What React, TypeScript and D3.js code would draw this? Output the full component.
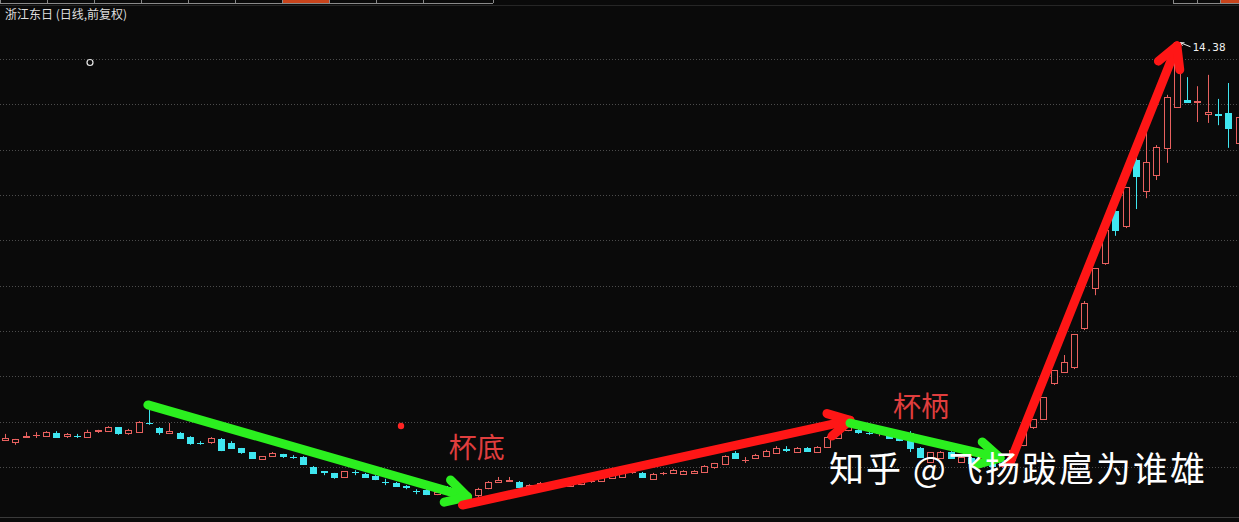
import * as d3 from "d3";

const WIDTH = 1239;
const HEIGHT = 522;
const BG = "#0a0a0a";
const RED = "#e8615f";
const CYAN = "#3fe6f0";
const ARROW_GREEN = "#2bef1f";
const ARROW_RED = "#ff1616";
const LABEL_RED = "#e03e3e";

// price levels of the dotted grid
const gridLevels = [5, 6, 7, 8, 9, 10, 11, 12, 13, 14];

// daily candles
const opens = [
  5.60, 5.55, 5.67, 5.70, 5.68, 5.75, 5.68, 5.69, 5.66, 5.79,
  5.79, 5.88, 5.75, 5.77, 5.98, 5.86, 5.75, 5.75, 5.66, 5.54,
  5.55, 5.62, 5.53, 5.42, 5.33, 5.18, 5.24, 5.29, 5.23, 5.22,
  5.00, 4.91, 4.87, 4.78, 4.90, 4.85, 4.80, 4.68, 4.65, 4.57,
  4.48, 4.49, 4.40, 4.56, 4.45, 4.27, 4.38, 4.54, 4.67, 4.69,
  4.67, 4.49, 4.56, 4.60, 4.58, 4.58, 4.62, 4.69, 4.69, 4.76,
  4.78, 4.89, 4.87, 4.74, 4.86, 4.87, 4.85, 4.87, 4.89, 5.00,
  5.07, 5.31, 5.15, 5.20, 5.24, 5.31, 5.39, 5.33, 5.42, 5.33,
  5.44, 5.64, 5.82, 5.82, 5.76, 5.74, 5.73, 5.66, 5.75, 5.42,
  5.11, 5.20, 5.33, 5.11, 5.20, 5.15, 5.11, 5.02, 5.15, 5.49,
  5.88, 6.06, 6.85, 7.10, 7.21, 8.07, 8.95, 9.50, 10.65, 10.32,
  11.77, 11.09, 11.44, 12.04, 12.94, 13.10, 13.06, 12.79, 12.78, 12.81,
  12.15,
];
const highs = [
  5.73, 5.62, 5.77, 5.77, 5.79, 5.79, 5.75, 5.73, 5.82, 5.82,
  5.90, 5.88, 5.84, 6.01, 6.41, 5.88, 5.97, 5.77, 5.68, 5.57,
  5.66, 5.64, 5.57, 5.42, 5.33, 5.24, 5.33, 5.29, 5.26, 5.24,
  5.02, 4.91, 4.87, 4.91, 4.93, 4.87, 4.82, 4.74, 4.67, 4.60,
  4.51, 4.51, 4.47, 4.58, 4.47, 4.40, 4.54, 4.69, 4.78, 4.78,
  4.69, 4.62, 4.67, 4.67, 4.69, 4.67, 4.74, 4.74, 4.80, 4.85,
  4.89, 4.93, 4.89, 4.87, 4.89, 4.96, 4.93, 4.93, 5.04, 5.09,
  5.26, 5.35, 5.22, 5.29, 5.38, 5.46, 5.46, 5.44, 5.44, 5.46,
  5.68, 5.84, 6.13, 5.84, 5.79, 5.82, 5.75, 5.68, 5.79, 5.44,
  5.33, 5.35, 5.35, 5.24, 5.22, 5.18, 5.13, 5.18, 5.40, 5.79,
  6.06, 6.54, 7.14, 7.47, 7.93, 8.66, 9.39, 10.23, 10.74, 11.18,
  11.93, 12.50, 12.10, 13.21, 14.38, 13.60, 13.40, 13.65, 13.12, 13.47,
  12.85,
];
const lows = [
  5.60, 5.49, 5.67, 5.64, 5.68, 5.66, 5.64, 5.64, 5.66, 5.75,
  5.79, 5.71, 5.71, 5.77, 5.93, 5.71, 5.75, 5.64, 5.49, 5.49,
  5.51, 5.35, 5.42, 5.29, 5.20, 5.18, 5.24, 5.20, 5.18, 5.07,
  4.87, 4.82, 4.74, 4.78, 4.82, 4.76, 4.71, 4.60, 4.56, 4.51,
  4.40, 4.38, 4.38, 4.45, 4.23, 4.18, 4.34, 4.51, 4.67, 4.69,
  4.51, 4.47, 4.56, 4.54, 4.56, 4.56, 4.60, 4.65, 4.69, 4.76,
  4.78, 4.85, 4.76, 4.74, 4.82, 4.87, 4.85, 4.87, 4.89, 4.96,
  5.07, 5.20, 5.09, 5.20, 5.24, 5.31, 5.33, 5.33, 5.35, 5.33,
  5.42, 5.62, 5.79, 5.73, 5.71, 5.68, 5.62, 5.57, 5.33, 5.20,
  5.09, 5.18, 5.18, 5.09, 5.07, 5.02, 4.98, 4.98, 5.13, 5.46,
  5.84, 6.04, 6.81, 7.08, 7.16, 8.02, 8.79, 9.46, 10.10, 10.27,
  10.69, 10.93, 11.33, 11.71, 12.92, 13.05, 12.61, 12.59, 12.54, 12.04,
  12.10,
];
const closes = [
  5.64, 5.62, 5.68, 5.71, 5.77, 5.66, 5.73, 5.68, 5.77, 5.82,
  5.88, 5.75, 5.82, 5.99, 5.96, 5.77, 5.79, 5.64, 5.53, 5.53,
  5.64, 5.38, 5.42, 5.33, 5.20, 5.24, 5.31, 5.24, 5.22, 5.07,
  4.87, 4.89, 4.78, 4.91, 4.89, 4.78, 4.74, 4.67, 4.58, 4.56,
  4.47, 4.40, 4.45, 4.45, 4.32, 4.38, 4.51, 4.67, 4.71, 4.71,
  4.56, 4.60, 4.65, 4.61, 4.67, 4.65, 4.71, 4.69, 4.78, 4.82,
  4.87, 4.89, 4.78, 4.85, 4.87, 4.93, 4.91, 4.91, 5.02, 5.09,
  5.24, 5.20, 5.16, 5.26, 5.35, 5.42, 5.38, 5.42, 5.35, 5.44,
  5.66, 5.82, 6.04, 5.77, 5.75, 5.75, 5.64, 5.60, 5.42, 5.22,
  5.33, 5.33, 5.20, 5.22, 5.09, 5.04, 5.02, 5.15, 5.38, 5.77,
  6.06, 6.54, 7.14, 7.32, 7.93, 8.62, 9.39, 10.23, 10.23, 11.18,
  11.42, 11.73, 12.06, 13.16, 14.38, 13.05, 13.08, 12.83, 12.76, 12.48,
  12.72,
];

// hand drawn arrows: [candle index, price]
const arrows = [
  { from: [13.9, 6.37], to: [45.0, 4.34], trend: "down" },
  { from: [44.5, 4.16], to: [82.2, 6.03], trend: "up" },
  { from: [82.2, 5.97], to: [96.8, 5.2], trend: "down" },
  { from: [97.8, 5.11], to: [114.0, 14.29], trend: "up" },
];

const labels = [
  { text: "杯底", at: [45.9, 5.2] },
  { text: "杯柄", at: [89.1, 6.1] },
];

const Arrow = ({ x1, y1, x2, y2, color }: { x1: number; y1: number; x2: number; y2: number; color: string }) => {
  const ang = Math.atan2(y2 - y1, x2 - x1);
  const len = 24;
  const spread = 0.5;
  const a1 = ang + Math.PI - spread;
  const a2 = ang + Math.PI + spread;
  return (
    <g stroke={color} strokeWidth={9} strokeLinecap="round" strokeLinejoin="round" fill="none">
      <line x1={x1} y1={y1} x2={x2} y2={y2} />
      <path
        d={`M${x2 + len * Math.cos(a1)},${y2 + len * Math.sin(a1)} L${x2},${y2} L${x2 + len * Math.cos(a2)},${y2 + len * Math.sin(a2)}`}
      />
    </g>
  );
};

export default function App() {
  const x = d3.scaleLinear().domain([0, opens.length - 1]).range([5, 1238.6]);
  const y = d3.scaleLinear().domain([5, 14]).range([467, 59]);

  const maxHigh = d3.max(highs) || 0;
  const maxIdx = highs.indexOf(maxHigh);
  const peakX = Math.round(x(maxIdx)) + 0.5;
  const peakY = y(maxHigh);

  const tabs = [0, 47, 94, 141, 188, 235, 282, 329, 376, 423, 493];

  return (
    <div style={{ position: "fixed", left: 0, top: 0, background: BG }}>
      <svg width={WIDTH} height={HEIGHT} style={{ display: "block" }}>
        <rect width={WIDTH} height={HEIGHT} fill={BG} />

        {/* tab strip */}
        <g>
          <rect x={282} y={0} width={47} height={3} fill="#c8441c" />
          <rect x={1220} y={0} width={19} height={3} fill="#c8441c" />
          <line x1={0} x2={493} y1={3.5} y2={3.5} stroke="#8a8a8a" />
          <line x1={1173} x2={1239} y1={3.5} y2={3.5} stroke="#8a8a8a" />
          {tabs.map((t) => (
            <line key={t} x1={t + 0.5} x2={t + 0.5} y1={0} y2={3} stroke="#8a8a8a" />
          ))}
          {[1173, 1197, 1220].map((t) => (
            <line key={t} x1={t + 0.5} x2={t + 0.5} y1={0} y2={3} stroke="#8a8a8a" />
          ))}
          <line x1={0} x2={WIDTH} y1={5.5} y2={5.5} stroke="#262626" />
          <line x1={0} x2={WIDTH} y1={517.5} y2={517.5} stroke="#3a3a3a" />
        </g>

        {/* dotted grid */}
        {gridLevels.map((g) => (
          <line
            key={g}
            x1={0}
            x2={WIDTH}
            y1={Math.round(y(g)) + 0.5}
            y2={Math.round(y(g)) + 0.5}
            stroke="#4c4c4c"
            strokeDasharray="1 2"
          />
        ))}

        <text x={5} y={19} fill="#dedede" fontSize={12} fontFamily="'Noto Sans CJK SC', sans-serif">
          浙江东日 (日线,前复权)
        </text>

        <circle cx={90} cy={62.5} r={3} fill="none" stroke="#e8e8e8" strokeWidth={1.2} />
        <circle cx={401} cy={426} r={3.2} fill="#ff2424" />

        {/* candles */}
        {opens.map((o, i) => {
          const c = closes[i];
          const up = c >= o;
          const color = up ? RED : CYAN;
          const cx = Math.round(x(i)) + 0.5;
          const top = Math.round(y(Math.max(o, c)));
          const bot = Math.round(y(Math.min(o, c)));
          const hh = bot - top;
          return (
            <g key={i}>
              <line x1={cx} x2={cx} y1={y(highs[i])} y2={y(lows[i])} stroke={color} />
              {hh < 1 ? (
                <line x1={cx - 3.5} x2={cx + 3.5} y1={top + 0.5} y2={top + 0.5} stroke={color} />
              ) : up ? (
                <rect x={cx - 3} y={top + 0.5} width={6} height={hh} fill={BG} stroke={color} />
              ) : (
                <rect x={cx - 3.5} y={top} width={7} height={hh + 1} fill={color} />
              )}
            </g>
          );
        })}

        {/* peak marker */}
        <g stroke="#f0f0f0" strokeWidth={1} fill="none">
          <path d={`M${peakX + 3},${peakY + 1} L${peakX + 13},${peakY + 5}`} />
          <path d={`M${peakX + 7},${peakY + 1} L${peakX + 3},${peakY + 1} L${peakX + 5},${peakY + 4}`} />
        </g>
        <text x={peakX + 15} y={peakY + 9} fill="#f0f0f0" fontSize={11} fontFamily="'DejaVu Sans Mono', monospace">
          {maxHigh.toFixed(2)}
        </text>

        {/* arrows */}
        {arrows.map((a, i) => (
          <Arrow
            key={i}
            x1={x(a.from[0])}
            y1={y(a.from[1])}
            x2={x(a.to[0])}
            y2={y(a.to[1])}
            color={a.trend === "up" ? ARROW_RED : ARROW_GREEN}
          />
        ))}

        {labels.map((l) => (
          <text
            key={l.text}
            x={x(l.at[0])}
            y={y(l.at[1])}
            textAnchor="middle"
            fill={LABEL_RED}
            fontSize={28}
            fontFamily="'Noto Sans CJK SC', sans-serif"
          >
            {l.text}
          </text>
        ))}

        <text
          x={829}
          y={482}
          fill="#ffffff"
          fontSize={35}
          letterSpacing={2}
          fontFamily="'Noto Sans CJK SC', sans-serif"
        >
          知乎 @飞扬跋扈为谁雄
        </text>
      </svg>
    </div>
  );
}
